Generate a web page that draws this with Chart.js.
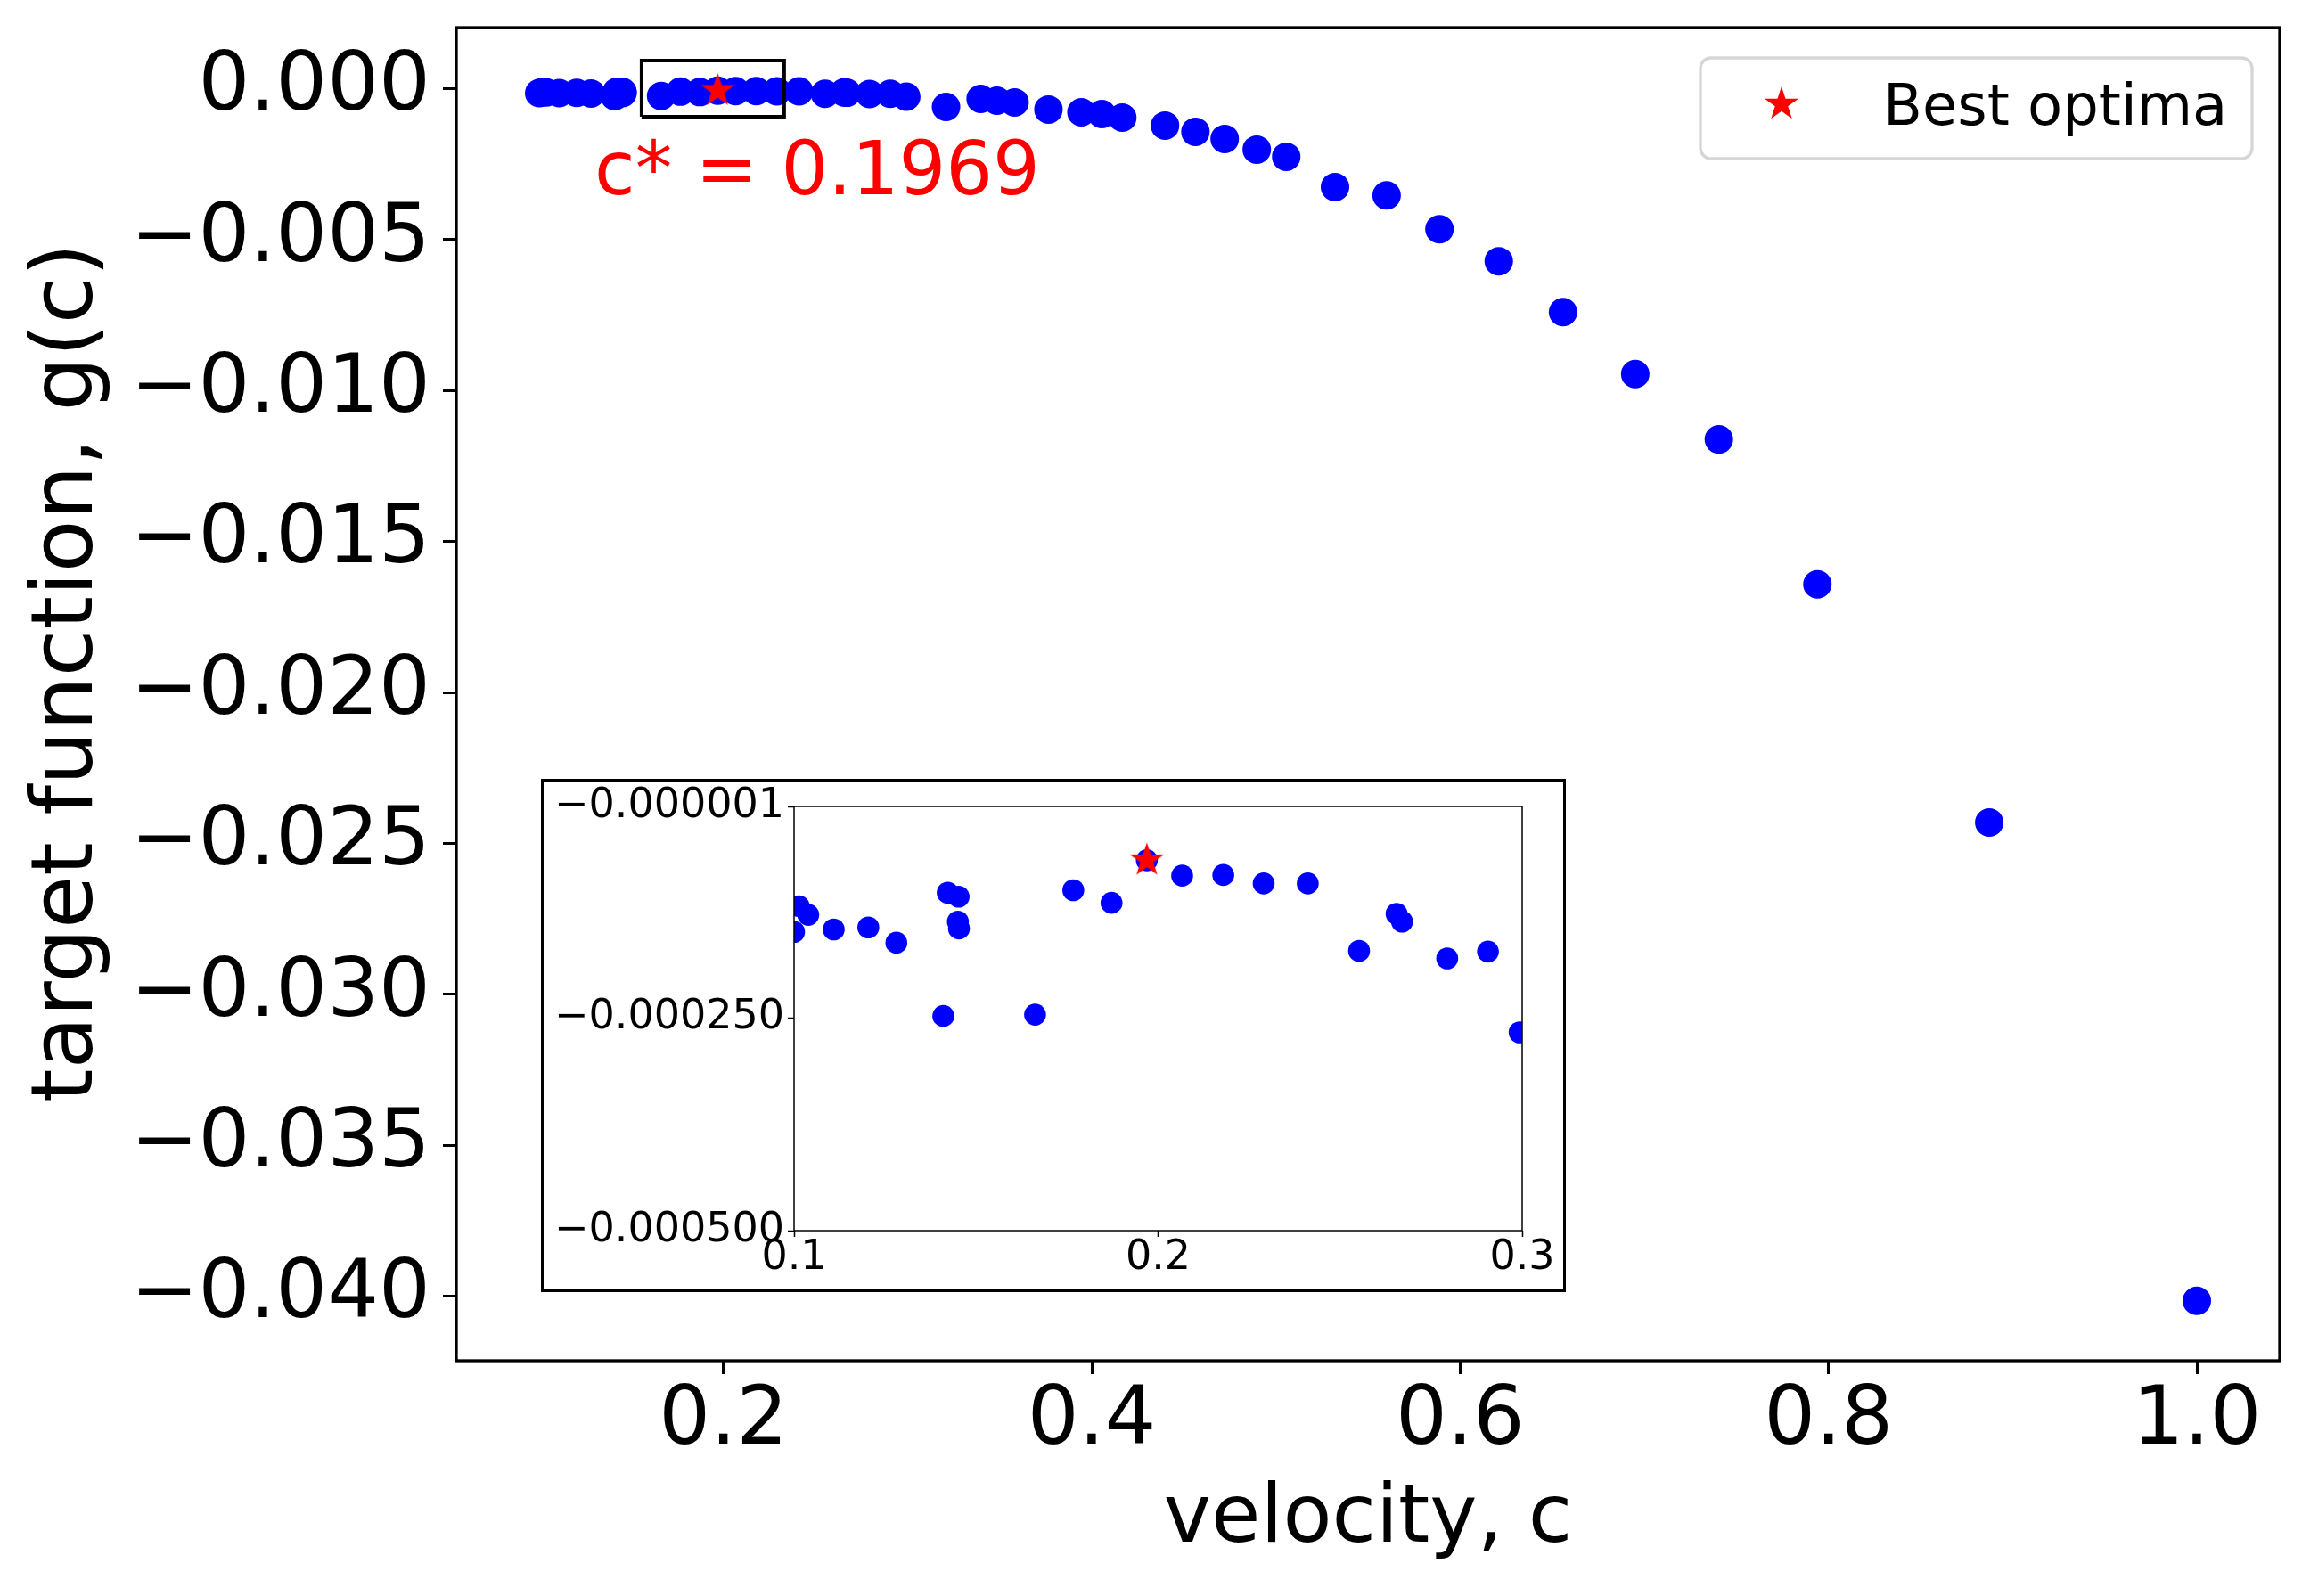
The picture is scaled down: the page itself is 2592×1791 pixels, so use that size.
<!DOCTYPE html>
<html><head><meta charset="utf-8">
<script src="https://cdn.jsdelivr.net/npm/chart.js@4.4.1/dist/chart.umd.min.js"></script>
<style>
html,body{margin:0;padding:0;background:#fff;}
#wrap{position:relative;width:2592px;height:1791px;overflow:hidden;}
#main{position:absolute;left:0;top:0;width:2592px;height:1791px;}
#inset{position:absolute;left:607px;top:874px;width:1150px;height:576px;}
</style></head><body>
<div id="wrap"><canvas id="main" width="2592" height="1791"></canvas><canvas id="inset" width="1150" height="576"></canvas></div>
<script>
// ---- data ----
const velocity = [0.1000,0.1013,0.1039,0.1109,0.1204,0.1281,0.1410,0.1422,0.1452,0.1450,0.1453,0.1662,0.1767,0.1872,0.1969,0.2066,0.2179,0.2290,0.2411,0.2552,0.2655,0.2670,0.2794,0.2906,0.2993,
  0.3209,0.3397,0.3485,0.3581,0.3765,0.3944,0.4055,0.4166,0.4398,0.4563,0.4722,0.4896,0.5056,0.5321,0.5601,0.5888,0.6210,0.6559,0.6951,0.7405,0.7940,0.8873,1.0000];
const target = [-0.0001485,-0.0001184,-0.0001285,-0.0001457,-0.0001433,-0.0001613,-0.0002475,-0.0001024,-0.0001072,-0.0001365,-0.0001445,-0.0002459,-0.0000996,-0.0001144,-0.0000643,-0.0000824,-0.0000816,-0.0000916,-0.0000916,-0.0001709,-0.0001273,-0.0001365,-0.0001798,-0.0001717,-0.0002667,
  -0.000605,-0.000339,-0.000398,-0.000457,-0.000693,-0.000782,-0.000841,-0.000959,-0.001224,-0.001431,-0.001667,-0.002021,-0.002257,-0.00326,-0.003534,-0.004655,-0.005717,-0.0074,-0.009451,-0.011617,-0.016416,-0.024304,-0.040145];
const bestC = [0.1969];
const bestG = [-0.0000643];
const zoomBoxC = [0.1556, 0.2330];
const zoomBoxG = [-0.00093, 0.00093];
const mainXTicks = [0.2,0.4,0.6,0.8,1.0];
const mainXTickLabels = ['0.2','0.4','0.6','0.8','1.0'];
const mainYTicks = [0,-0.005,-0.010,-0.015,-0.020,-0.025,-0.030,-0.035,-0.040];
const mainYTickLabels = ['0.000','\u22120.005','\u22120.010','\u22120.015','\u22120.020','\u22120.025','\u22120.030','\u22120.035','\u22120.040'];
const insetXTicks = [0.1,0.2,0.3];
const insetXTickLabels = ['0.1','0.2','0.3'];
const insetYTicks = [-0.000001,-0.00025,-0.0005];
const insetYTickLabels = ['\u22120.000001','\u22120.000250','\u22120.000500'];
const annotText = 'c* = 0.1969';
const annotPos = [0.13, -0.0035];
const legendLabel = 'Best optima';
const xTitle = 'velocity, c';
const yTitle = 'target function, g(c)';

// ---- rendering ----
const FF = "'DejaVu Sans', sans-serif";
function makeStar(R, color){
  const s = Math.ceil(2*R+4), cv = document.createElement('canvas');
  cv.width = cv.height = s;
  const c = cv.getContext('2d'), cx = s/2, cy = s/2;
  c.beginPath();
  for (let i=0;i<10;i++){
    const r = (i%2) ? R*0.381966 : R;
    const a = -Math.PI/2 + i*Math.PI/5;
    const x = cx + r*Math.cos(a), y = cy + r*Math.sin(a);
    if (i) c.lineTo(x,y); else c.moveTo(x,y);
  }
  c.closePath(); c.fillStyle = color; c.fill();
  return cv;
}
const starImg = makeStar(20, '#ff0000');
const pts = velocity.map((c,i)=>({x:c,y:target[i]}));
const bestPts = bestC.map((c,i)=>({x:c,y:bestG[i]}));
const boxPts = [{x:zoomBoxC[0],y:zoomBoxG[0]},{x:zoomBoxC[1],y:zoomBoxG[0]},{x:zoomBoxC[1],y:zoomBoxG[1]},{x:zoomBoxC[0],y:zoomBoxG[1]},{x:zoomBoxC[0],y:zoomBoxG[0]}];
function labelFor(ticks, labels){
  return (v)=>{ const i = ticks.findIndex(t=>Math.abs(t-v)<1e-12); return i>=0 ? labels[i] : ''; };
}
const bgPlugin = {id:'bg', beforeDraw(ch){ const c=ch.ctx; c.save(); c.fillStyle='#fff'; c.fillRect(0,0,ch.width,ch.height); c.restore(); }};
const framePlugin = (lw)=>({id:'frame', afterDatasetsDraw(ch){ const a=ch.chartArea, c=ch.ctx; c.save(); c.strokeStyle='#000'; c.lineWidth=lw; c.strokeRect(a.left, a.top, a.right-a.left, a.bottom-a.top); c.restore(); }});
const mainExtras = {id:'mainExtras', afterDraw(ch){
  const c = ch.ctx, xs = ch.scales.x, ys = ch.scales.y;
  c.save();
  // annotation
  c.fillStyle = '#ff0000'; c.font = '83px ' + FF; c.textAlign='left'; c.textBaseline='alphabetic';
  c.fillText(annotText, xs.getPixelForValue(annotPos[0]), ys.getPixelForValue(annotPos[1]));
  // y axis title
  c.save(); c.translate(103, 755); c.rotate(-Math.PI/2);
  c.fillStyle = '#000'; c.font = '96px ' + FF; c.textAlign = 'center'; c.textBaseline = 'alphabetic';
  c.fillText(yTitle, 0, 0); c.restore();
  // legend
  const L = 1908, T = 65, W = 619, H = 113, r = 12;
  c.beginPath(); c.roundRect(L, T, W, H, r);
  c.fillStyle = 'rgba(255,255,255,0.8)'; c.fill();
  c.lineWidth = 3.3; c.strokeStyle = '#d6d6d6'; c.stroke();
  c.drawImage(starImg, 1999 - starImg.width/2, 117 - starImg.height/2);
  c.fillStyle = '#000'; c.font = '64px ' + FF; c.textAlign='left'; c.fillText(legendLabel, 2113, 140);
  c.restore();
}};
const insetExtras = {id:'insetExtras', afterDraw(ch){
  const c = ch.ctx; c.save(); c.strokeStyle='#000'; c.lineWidth=3; c.strokeRect(1.5,1.5,ch.width-3,ch.height-3); c.restore();
}};
const noPadH = s=>{ s.paddingLeft = 0; s.paddingRight = 0; };
const noPadV = s=>{ s.paddingTop = 0; s.paddingBottom = 0; };

new Chart(document.getElementById('main'), {
  data: { datasets: [
    {type:'scatter', data: bestPts, pointStyle: starImg, pointRadius: 20, pointHoverRadius: 20, backgroundColor:'#f00', borderWidth:0},
    {type:'line', data: boxPts, borderColor:'#000', borderWidth:4, pointRadius:0, fill:false, tension:0},
    {type:'scatter', data: pts, backgroundColor:'#0000ff', borderWidth:0, pointRadius:16, pointHoverRadius:16}
  ]},
  options: {
    responsive:false, animation:false, devicePixelRatio:1, events:[],
    layout:{padding:{top:31,right:34,left:0,bottom:0}},
    plugins:{legend:{display:false}, tooltip:{enabled:false}},
    scales:{
      x:{type:'linear', bounds:'data', min:0.055, max:1.045,
        afterBuildTicks:s=>{ s.ticks = mainXTicks.map(v=>({value:v})); },
        afterFit:s=>{ s.height = 264; noPadH(s); },
        ticks:{font:{family:FF,size:91}, color:'#000', padding:0, maxRotation:0, autoSkip:false, callback: labelFor(mainXTicks, mainXTickLabels)},
        grid:{display:true, drawOnChartArea:false, drawTicks:true, tickLength:15, tickWidth:3, tickColor:'#000'},
        border:{display:false},
        title:{display:true, text:xTitle, font:{family:FF,size:90}, color:'#000', padding:{top:0,bottom:30}}
      },
      y:{type:'linear', bounds:'data', min:-0.04213, max:0.00202,
        afterBuildTicks:s=>{ s.ticks = mainYTicks.map(v=>({value:v})); },
        afterFit:s=>{ s.width = 512; noPadV(s); },
        ticks:{font:{family:FF,size:91}, color:'#000', padding:14, autoSkip:false, callback: labelFor(mainYTicks, mainYTickLabels)},
        grid:{display:true, drawOnChartArea:false, drawTicks:true, tickLength:15, tickWidth:3, tickColor:'#000'},
        border:{display:false},
        title:{display:false}
      }
    }
  },
  plugins:[bgPlugin, framePlugin(3.3), mainExtras]
});

new Chart(document.getElementById('inset'), {
  data: { datasets: [
    {type:'scatter', data: bestPts, pointStyle: starImg, pointRadius: 20, pointHoverRadius: 20, backgroundColor:'#f00', borderWidth:0, clip:0},
    {type:'scatter', data: pts, backgroundColor:'#0000ff', borderWidth:0, pointRadius:12.3, pointHoverRadius:12.3, clip:0}
  ]},
  options: {
    responsive:false, animation:false, devicePixelRatio:1, events:[],
    layout:{padding:{top:31,right:49,left:0,bottom:0}},
    plugins:{legend:{display:false}, tooltip:{enabled:false}},
    scales:{
      x:{type:'linear', bounds:'data', min:0.1, max:0.3,
        afterBuildTicks:s=>{ s.ticks = insetXTicks.map(v=>({value:v})); },
        afterFit:s=>{ s.height = 69; noPadH(s); },
        ticks:{font:{family:FF,size:46,lineHeight:1}, color:'#000', padding:1, maxRotation:0, autoSkip:false, callback: labelFor(insetXTicks, insetXTickLabels)},
        grid:{display:true, drawOnChartArea:false, drawTicks:true, tickLength:7, tickWidth:1.5, tickColor:'#000'},
        border:{display:false}
      },
      y:{type:'linear', bounds:'data', min:-0.0005, max:-0.000001,
        afterBuildTicks:s=>{ s.ticks = insetYTicks.map(v=>({value:v})); },
        afterFit:s=>{ s.width = 284; noPadV(s); },
        ticks:{font:{family:FF,size:46}, color:'#000', padding:4, autoSkip:false, callback: labelFor(insetYTicks, insetYTickLabels)},
        grid:{display:true, drawOnChartArea:false, drawTicks:true, tickLength:7, tickWidth:1.5, tickColor:'#000'},
        border:{display:false}
      }
    }
  },
  plugins:[bgPlugin, framePlugin(1.5), insetExtras]
});
</script>
</body></html>
